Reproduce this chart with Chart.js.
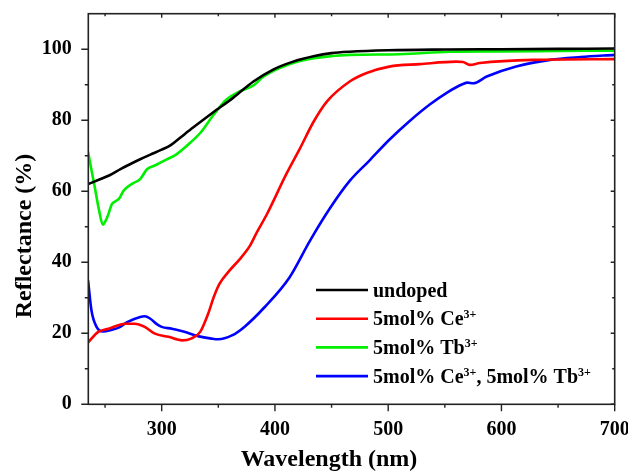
<!DOCTYPE html>
<html>
<head>
<meta charset="utf-8">
<script src="https://cdn.jsdelivr.net/npm/chart.js@4/dist/chart.umd.min.js"></script>
<style>
html, body { margin: 0; padding: 0; background: #fff; }
#wrap { width: 628px; height: 471px; }
</style>
</head>
<body>
<div id="wrap"><canvas id="c" width="628" height="471"></canvas></div>
<script>
// values
const undopedWl = [235, 245, 254, 264, 272, 281, 290, 300, 308, 316, 328, 345, 363, 381, 398, 416, 434, 450, 466, 500, 550, 600, 650, 700]
const undopedR = [62.0, 63.3, 64.5, 66.3, 67.6, 69.0, 70.3, 71.7, 73.0, 75.0, 78.0, 82.1, 86.3, 90.9, 94.2, 96.5, 98.0, 98.9, 99.3, 99.7, 99.9, 100.0, 100.1, 100.2]

const ceWl = [235, 244, 253, 268, 276, 285, 294, 306, 318, 326, 334, 341, 346, 351, 360, 369, 378, 384, 393, 410, 422, 434, 446, 466, 481, 501, 528, 560, 566, 572, 581, 628, 700]
const ceR = [17.4, 20.4, 21.3, 22.7, 22.7, 21.8, 19.9, 19.0, 18.0, 18.5, 20.4, 25.5, 30.2, 33.9, 37.7, 40.9, 44.7, 48.4, 53.6, 64.8, 72.0, 79.5, 85.3, 90.9, 93.3, 95.1, 95.8, 96.5, 96.4, 95.6, 96.1, 97.0, 97.2]

const tbWl = [235, 238, 241, 244.5, 248, 251, 253, 256, 260, 263, 266, 269, 275, 281, 287, 295, 304, 313, 325, 334, 346, 357, 369, 381, 390, 404, 422, 440, 466, 510, 554, 600, 650, 700]
const tbR = [71.1, 66.0, 61.0, 55.0, 50.6, 52.0, 53.6, 56.4, 57.3, 58.2, 60.0, 61.0, 62.3, 63.4, 66.2, 67.4, 68.9, 70.4, 73.6, 76.4, 81.6, 85.8, 88.1, 89.8, 92.3, 94.7, 96.7, 97.7, 98.4, 98.6, 99.3, 99.4, 99.5, 99.6]

const ceTbWl = [235, 238, 242.5, 248, 256, 262, 270, 281, 285, 290, 296, 300, 309, 320, 332, 344, 350, 362, 373, 391, 413, 431, 449, 466, 483, 501, 519, 537, 552, 566, 570, 575, 587, 613, 643, 670, 700]
const ceTbR = [34.9, 26.4, 21.8, 20.5, 21.0, 21.6, 23.2, 24.6, 24.8, 24.1, 22.5, 21.8, 21.3, 20.4, 19.2, 18.5, 18.3, 19.4, 21.8, 27.4, 35.8, 46.1, 55.4, 62.9, 68.5, 74.5, 79.8, 84.5, 87.8, 90.2, 90.6, 90.4, 92.3, 95.1, 97.0, 97.8, 98.4]

const seriesNames = ['undoped', '5mol% Ce^{3+}', '5mol% Tb^{3+}', '5mol% Ce^{3+}, 5mol% Tb^{3+}']
const seriesColors = ['#000000', '#ff0000', '#00ee00', '#0000ff']

const xTickValues = [300, 400, 500, 600, 700]
const xMinorValues = [250, 350, 450, 550, 650]
const yTickValues = [0, 20, 40, 60, 80, 100]
const yMinorValues = [10, 30, 50, 70, 90]

const xTitle = 'Wavelength (nm)'
const yTitle = 'Reflectance (%)'

const FONT = '"Liberation Serif", "Times New Roman", serif'

const pts = (xs, ys) => xs.map((x, i) => ({ x: x, y: ys[i] }))

function mkSet(i, xs, ys) {
    return {
        label: seriesNames[i],
        data: pts(xs, ys),
        borderColor: seriesColors[i],
        borderWidth: 2.6,
        pointRadius: 0,
        fill: false,
        cubicInterpolationMode: 'monotone'
    }
}

// no extra room for overhanging tick labels
function noPad(s) {
    s.paddingLeft = 0
    s.paddingRight = 0
    s.paddingTop = 0
    s.paddingBottom = 0
}

// frame, ticks, axis titles and legend
const decor = {
    id: 'decor',
    afterDatasetsDraw(chart) {
        const c = chart.ctx
        const a = chart.chartArea
        const xs = chart.scales.x
        const ys = chart.scales.y
        c.save()
        c.strokeStyle = '#222'
        c.lineWidth = 1.6
        c.strokeRect(a.left, a.top, a.right - a.left, a.bottom - a.top)

        c.lineWidth = 1.4
        c.beginPath()
        xTickValues.concat(xMinorValues).forEach(v => {
            const major = xTickValues.includes(v)
            const px = xs.getPixelForValue(v)
            c.moveTo(px, a.bottom); c.lineTo(px, a.bottom + (major ? 7 : 3.5))
            c.moveTo(px, a.top); c.lineTo(px, a.top + (major ? 4 : 2.5))
        })
        yTickValues.concat(yMinorValues).forEach(v => {
            const major = yTickValues.includes(v)
            const py = ys.getPixelForValue(v)
            c.moveTo(a.left, py); c.lineTo(a.left - (major ? 7 : 3.5), py)
            c.moveTo(a.right, py); c.lineTo(a.right - (major ? 4 : 2.5), py)
        })
        c.stroke()
        c.restore()
    },
    afterDraw(chart) {
        const c = chart.ctx
        c.save()
        c.fillStyle = '#000'
        c.font = 'bold 24px ' + FONT
        c.textAlign = 'center'
        c.textBaseline = 'alphabetic'
        c.fillText(xTitle, 329, 466)

        c.translate(31, 236)
        c.rotate(-Math.PI / 2)
        c.fillText(yTitle, 0, 0)
        c.restore()

        // legend
        c.save()
        const lx = 316, ly = 290, gap = 28.7
        chart.data.datasets.forEach((ds, i) => {
            const y = ly + i * gap
            c.strokeStyle = ds.borderColor
            c.lineWidth = 2.6
            c.beginPath()
            c.moveTo(lx, y); c.lineTo(lx + 52, y)
            c.stroke()

            let x = lx + 57
            const parts = ds.label.split(/\^\{(.*?)\}/)
            c.fillStyle = '#000'
            c.textBaseline = 'alphabetic'
            c.textAlign = 'left'
            parts.forEach((p, k) => {
                if (k % 2 === 0) {
                    c.font = 'bold 20px ' + FONT
                    c.fillText(p, x, y + 6.5)
                } else {
                    c.font = 'bold 12px ' + FONT
                    c.fillText(p, x, y - 0.5)
                }
                x += c.measureText(p).width
            })
        })
        c.restore()
    }
}

const chart = new Chart(document.getElementById('c'), {
    type: 'line',
    data: {
        datasets: [
            mkSet(0, undopedWl, undopedR),
            mkSet(1, ceWl, ceR),
            mkSet(2, tbWl, tbR),
            mkSet(3, ceTbWl, ceTbR)
        ]
    },
    options: {
        responsive: false,
        animation: false,
        devicePixelRatio: 1,
        layout: { padding: { left: 0, right: 13.3, top: 13.7, bottom: 0 } },
        plugins: {
            legend: { display: false },
            tooltip: { enabled: false }
        },
        scales: {
            x: {
                type: 'linear',
                min: 235.2,
                max: 700,
                grid: { display: false, drawTicks: false },
                border: { display: false },
                afterBuildTicks: s => { s.ticks = xTickValues.map(v => ({ value: v })) },
                afterFit: s => { s.height = 66.7; noPad(s) },
                ticks: {
                    color: '#000',
                    padding: 13.7,
                    maxRotation: 0,
                    font: { family: FONT, weight: 'bold', size: 20 }
                }
            },
            y: {
                min: 0,
                max: 110,
                grid: { display: false, drawTicks: false },
                border: { display: false },
                afterBuildTicks: s => { s.ticks = yTickValues.map(v => ({ value: v })) },
                afterFit: s => { s.width = 88.3; noPad(s) },
                ticks: {
                    color: '#000',
                    padding: 16.6,
                    font: { family: FONT, weight: 'bold', size: 20 }
                }
            }
        }
    },
    plugins: [decor]
})
</script>
</body>
</html>
